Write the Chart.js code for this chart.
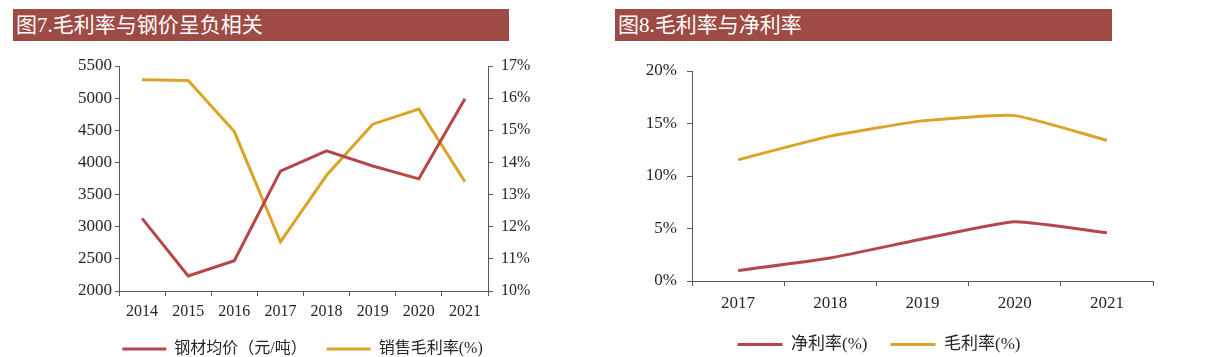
<!DOCTYPE html>
<html>
<head>
<meta charset="utf-8">
<script src="https://cdn.jsdelivr.net/npm/chart.js@4.4.1/dist/chart.umd.min.js"></script>
<style>
  html, body { margin: 0; padding: 0; background: #ffffff; width: 1210px; height: 357px; overflow: hidden; }
  .bar { position: absolute; top: 9px; height: 32px; background: #9E4B46; color: #ffffff;
         font-family: "Liberation Serif", "Noto Sans CJK SC", serif; font-size: 21px; line-height: 32px;
         padding-left: 3px; box-sizing: border-box; white-space: nowrap; }
  .wrap { position: absolute; top: 45px; }
</style>
</head>
<body>
<div class="bar" style="left:13px; width:496px;">图7.毛利率与钢价呈负相关</div>
<div class="bar" style="left:615px; width:497px;">图8.毛利率与净利率</div>
<div class="wrap" style="left:0px; width:605px; height:322px;"><canvas id="c1" width="605" height="322"></canvas></div>
<div class="wrap" style="left:605px; width:605px; height:318px;"><canvas id="c2" width="605" height="318"></canvas></div>
<script>
// ---- Chart 1 data ----
const years1 = ["2014", "2015", "2016", "2017", "2018", "2019", "2020", "2021"];
const steelPrice = [3130, 2235, 2470, 3865, 4180, 3945, 3745, 4990];      // 元/吨
const grossMargin1 = [16.57, 16.55, 14.96, 11.53, 13.6, 15.19, 15.66, 13.4]; // %
const leftTicks1 = { min: 2000, max: 5500, step: 500 };
const rightTicks1 = { min: 10, max: 17, step: 1 };

// ---- Chart 2 data ----
const years2 = ["2017", "2018", "2019", "2020", "2021"];
const netMargin2 = [1.0, 2.2, 4.0, 5.65, 4.6];        // %
const grossMargin2 = [11.55, 13.8, 15.25, 15.75, 13.4]; // %
const yTicks2 = { min: 0, max: 20, step: 5 };

const RED = "#B5474B";
const GOLD = "#DBA328";
const AXIS = "#595959";
const TXT = "#262626";
const FONT = "'Liberation Serif', 'Noto Sans CJK SC', serif";

Chart.defaults.font.family = FONT;
Chart.defaults.color = TXT;
Chart.defaults.animation = false;

function legendLabels(chart) {
  return Chart.defaults.plugins.legend.labels.generateLabels(chart).map(l => Object.assign(l, { lineWidth: 0 }));
}
function gridOpts(len) {
  return { drawOnChartArea: false, drawTicks: true, tickLength: len || 5, color: AXIS, lineWidth: 1 };
}

new Chart(document.getElementById("c1"), {
  type: "line",
  data: {
    labels: years1,
    datasets: [
      { label: "钢材均价（元/吨）", data: steelPrice, yAxisID: "y", borderColor: RED, backgroundColor: RED,
        borderWidth: 3, pointRadius: 0, tension: 0 },
      { label: "销售毛利率(%)", data: grossMargin1, yAxisID: "y1", borderColor: GOLD, backgroundColor: GOLD,
        borderWidth: 3, pointRadius: 0, tension: 0 }
    ]
  },
  options: {
    responsive: false,
    layout: { padding: { top: 21, left: 0, right: 0, bottom: 0 } },
    plugins: {
      legend: { position: "bottom", labels: { boxWidth: 44, boxHeight: 3, padding: 20, font: { size: 16 }, color: TXT, generateLabels: legendLabels } },
      tooltip: { enabled: false }
    },
    scales: {
      x: {
        offset: true,
        grid: Object.assign(gridOpts(5), { offset: true }),
        border: { color: AXIS, width: 1 },
        ticks: { font: { size: 16 }, padding: 6, maxRotation: 0, autoSkip: false },
        afterFit: s => { s.height = 30; }
      },
      y: {
        position: "left", min: leftTicks1.min, max: leftTicks1.max,
        grid: gridOpts(4), border: { color: AXIS, width: 1 },
        ticks: { stepSize: leftTicks1.step, font: { size: 17 }, padding: 3, callback: v => String(v) },
        afterFit: s => { s.width = 119; }
      },
      y1: {
        position: "right", min: rightTicks1.min, max: rightTicks1.max,
        grid: gridOpts(5), border: { color: AXIS, width: 1 },
        ticks: { stepSize: rightTicks1.step, font: { size: 16 }, padding: 8, callback: v => v + "%" },
        afterFit: s => { s.width = 117; }
      }
    }
  }
});

new Chart(document.getElementById("c2"), {
  type: "line",
  data: {
    labels: years2,
    datasets: [
      { label: "净利率(%)", data: netMargin2, borderColor: RED, backgroundColor: RED,
        borderWidth: 3, pointRadius: 0, tension: 0.15 },
      { label: "毛利率(%)", data: grossMargin2, borderColor: GOLD, backgroundColor: GOLD,
        borderWidth: 3, pointRadius: 0, tension: 0.15 }
    ]
  },
  options: {
    responsive: false,
    layout: { padding: { top: 26, left: 0, right: 57, bottom: 0 } },
    plugins: {
      legend: { position: "bottom", labels: { boxWidth: 45, boxHeight: 3, padding: 23, font: { size: 17 }, color: TXT, generateLabels: legendLabels } },
      tooltip: { enabled: false }
    },
    scales: {
      x: {
        offset: true,
        grid: Object.assign(gridOpts(5), { offset: true }),
        border: { color: AXIS, width: 1 },
        ticks: { font: { size: 17 }, padding: 7, maxRotation: 0, autoSkip: false },
        afterFit: s => { s.height = 32; }
      },
      y: {
        position: "left", min: yTicks2.min, max: yTicks2.max,
        grid: gridOpts(5), border: { color: AXIS, width: 1 },
        ticks: { stepSize: yTicks2.step, font: { size: 17 }, padding: 10, callback: v => v + "%" },
        afterFit: s => { s.width = 87; }
      }
    }
  }
});
</script>
</body>
</html>
